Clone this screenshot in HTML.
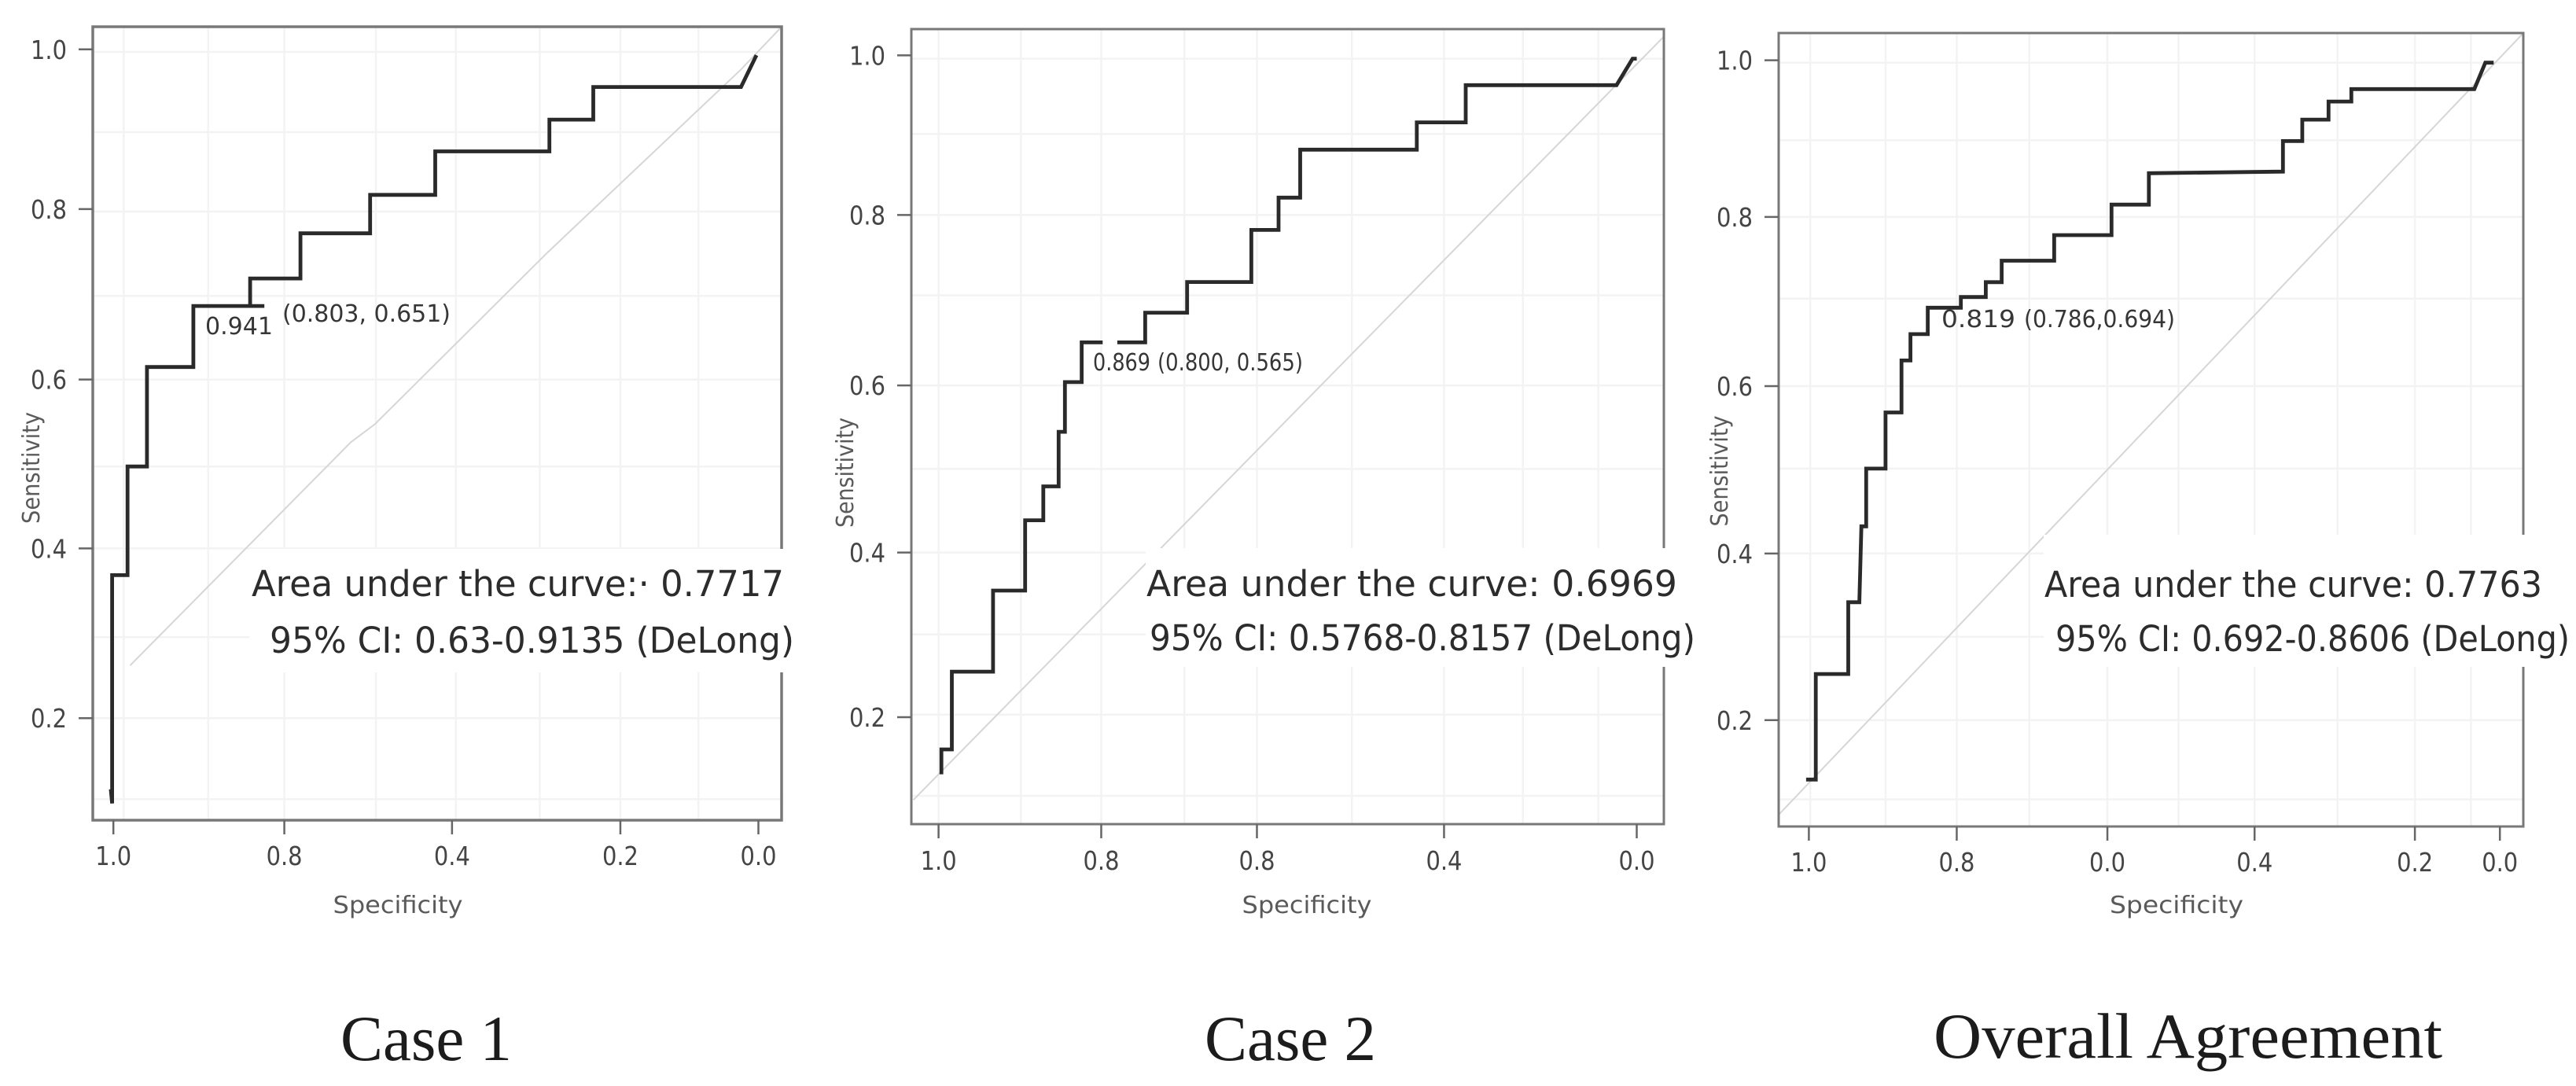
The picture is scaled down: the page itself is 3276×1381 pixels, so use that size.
<!DOCTYPE html>
<html>
<head>
<meta charset="utf-8">
<title>ROC curves</title>
<style>
html,body{margin:0;padding:0;background:#fff;}
svg{display:block;}
text{font-family:"DejaVu Sans","Liberation Sans",sans-serif;}
.tick-text{font-size:33px;fill:#454545;}
.axis-title{font-size:30px;fill:#5a5a5a;}
.cut-text{font-size:30px;fill:#363636;}
.auc-text{font-size:45px;fill:#2c2c2c;}
.caption{font-family:"Liberation Serif",serif;font-size:82px;fill:#1c1c1c;}
</style>
</head>
<body>
<svg id="figure" xmlns="http://www.w3.org/2000/svg" width="3276" height="1381" viewBox="0 0 3276 1381">
  <rect x="0" y="0" width="3276" height="1381" fill="#ffffff"/>

  <g id="panel-1">
    <g id="marks-1"></g>
    <rect x="118" y="34" width="876" height="1009" fill="none" stroke="#787878" stroke-width="3.5"/>
    <g id="ticks-1"></g>
    <rect x="317" y="698" width="696" height="157" fill="#ffffff"/>
    <text class="auc-text" x="320" y="758" textLength="677" lengthAdjust="spacingAndGlyphs">Area under the curve:&#183; 0.7717</text>
    <text class="auc-text" x="343" y="830" textLength="667" lengthAdjust="spacingAndGlyphs">95% CI: 0.63-0.9135 (DeLong)</text>
    <text class="cut-text" x="261" y="425" textLength="86" lengthAdjust="spacingAndGlyphs">0.941</text>
    <text class="cut-text" x="359" y="409" textLength="214" lengthAdjust="spacingAndGlyphs">(0.803, 0.651)</text>
    <text class="axis-title" x="506" y="1161" text-anchor="middle" textLength="165" lengthAdjust="spacingAndGlyphs">Specificity</text>
    <text class="axis-title" transform="translate(50,595) rotate(-90)" text-anchor="middle" textLength="142" lengthAdjust="spacingAndGlyphs">Sensitivity</text>
    <text class="caption" x="433" y="1348" textLength="218" lengthAdjust="spacingAndGlyphs">Case 1</text>
  </g>

  <g id="panel-2">
    <g id="marks-2"></g>
    <rect x="1159" y="37" width="957" height="1011" fill="none" stroke="#787878" stroke-width="3"/>
    <g id="ticks-2"></g>
    <rect x="1457" y="697" width="705" height="151" fill="#ffffff"/>
    <text class="auc-text" x="1458" y="758" textLength="675" lengthAdjust="spacingAndGlyphs">Area under the curve: 0.6969</text>
    <text class="auc-text" x="1462" y="827" textLength="694" lengthAdjust="spacingAndGlyphs">95% CI: 0.5768-0.8157 (DeLong)</text>
    <text class="cut-text" x="1390" y="471" textLength="73" lengthAdjust="spacingAndGlyphs">0.869</text>
    <text class="cut-text" x="1472" y="471" textLength="185" lengthAdjust="spacingAndGlyphs">(0.800, 0.565)</text>
    <text class="axis-title" x="1662" y="1161" text-anchor="middle" textLength="165" lengthAdjust="spacingAndGlyphs">Specificity</text>
    <text class="axis-title" transform="translate(1085,601) rotate(-90)" text-anchor="middle" textLength="140" lengthAdjust="spacingAndGlyphs">Sensitivity</text>
    <text class="caption" x="1532" y="1348" textLength="218" lengthAdjust="spacingAndGlyphs">Case 2</text>
  </g>

  <g id="panel-3">
    <g id="marks-3"></g>
    <rect x="2262" y="42" width="947" height="1009" fill="none" stroke="#787878" stroke-width="3"/>
    <g id="ticks-3"></g>
    <rect x="2599" y="680" width="677" height="168" fill="#ffffff"/>
    <text class="auc-text" x="2600" y="759" textLength="633" lengthAdjust="spacingAndGlyphs">Area under the curve: 0.7763</text>
    <text class="auc-text" x="2614" y="828" textLength="654" lengthAdjust="spacingAndGlyphs">95% CI: 0.692-0.8606 (DeLong)</text>
    <text class="cut-text" x="2469" y="416" textLength="94" lengthAdjust="spacingAndGlyphs">0.819</text>
    <text class="cut-text" x="2574" y="416" textLength="192" lengthAdjust="spacingAndGlyphs">(0.786,0.694)</text>
    <text class="axis-title" x="2768" y="1161" text-anchor="middle" textLength="170" lengthAdjust="spacingAndGlyphs">Specificity</text>
    <text class="axis-title" transform="translate(2197,599) rotate(-90)" text-anchor="middle" textLength="141" lengthAdjust="spacingAndGlyphs">Sensitivity</text>
    <text class="caption" x="2459" y="1345" textLength="647" lengthAdjust="spacingAndGlyphs">Overall Agreement</text>
  </g>
</svg>

<script>
// Case 1 data
var case1Specificity = [1.004,1.002,1.002,0.978,0.978,0.948,0.948,0.876,0.876,0.766,0.788,0.788,0.710,0.710,0.602,0.602,0.501,0.501,0.324,0.324,0.256,0.256,0.027,0.003];
var case1Sensitivity = [0.115,0.098,0.371,0.371,0.501,0.501,0.620,0.620,0.693,0.693,0.693,0.726,0.726,0.780,0.780,0.826,0.826,0.878,0.878,0.916,0.916,0.955,0.955,0.993];
var case1ChanceSpecificity = [0.974,0.632,0.594,0.327,0.027,-0.036];
var case1ChanceSensitivity = [0.263,0.530,0.552,0.757,0.976,1.027];
var case1XTickValues = [1,0.735,0.475,0.214,0];
var case1XTickLabels = ["1.0","0.8","0.4","0.2","0.0"];
var case1YTickValues = [1,0.809,0.605,0.403,0.2];
var case1YTickLabels = ["1.0","0.8","0.6","0.4","0.2"];
var case1GridSpecificity = [0.984,0.853,0.735,0.593,0.469,0.339,0.214,0.093];
var case1GridSensitivity = [0.997,0.901,0.806,0.705,0.605,0.501,0.403,0.297,0.2,0.103];

// Case 2 data (null marks the gap in the curve)
var case2Specificity = [0.996,0.996,0.981,0.981,0.922,0.922,0.876,0.876,0.850,0.850,0.828,0.828,0.819,0.819,0.795,0.795,0.765,null,0.744,0.704,0.704,0.644,0.644,0.552,0.552,0.513,0.513,0.482,0.482,0.315,0.315,0.245,0.245,0.029,0.006,0];
var case2Sensitivity = [0.131,0.161,0.161,0.255,0.255,0.353,0.353,0.438,0.438,0.479,0.479,0.545,0.545,0.605,0.605,0.653,0.653,null,0.653,0.653,0.689,0.689,0.726,0.726,0.789,0.789,0.828,0.828,0.886,0.886,0.919,0.919,0.964,0.964,0.996,0.996];
var case2ChanceSpecificity = [1.036,-0.038];
var case2ChanceSensitivity = [0.100,1.022];
var case2XTickValues = [1,0.767,0.544,0.276,0];
var case2XTickLabels = ["1.0","0.8","0.8","0.4","0.0"];
var case2YTickValues = [1,0.807,0.601,0.399,0.2];
var case2YTickLabels = ["1.0","0.8","0.6","0.4","0.2"];
var case2GridSpecificity = [1,0.882,0.767,0.648,0.544,0.408,0.276,0.163,0.055];
var case2GridSensitivity = [0.996,0.905,0.807,0.710,0.601,0.5,0.399,0.3,0.203,0.105];

// Overall agreement data
var overallSpecificity = [1.004,0.990,0.990,0.943,0.943,0.927,0.924,0.917,0.917,0.889,0.889,0.866,0.866,0.853,0.853,0.828,0.828,0.780,0.780,0.744,0.744,0.721,0.721,0.645,0.645,0.562,0.562,0.508,0.508,0.314,0.314,0.286,0.286,0.248,0.248,0.215,0.215,0.037,0.021,0.009];
var overallSensitivity = [0.128,0.128,0.256,0.256,0.343,0.343,0.435,0.435,0.505,0.505,0.573,0.573,0.636,0.636,0.668,0.668,0.700,0.700,0.713,0.713,0.731,0.731,0.757,0.757,0.788,0.788,0.825,0.825,0.863,0.865,0.902,0.902,0.928,0.928,0.950,0.950,0.965,0.965,0.997,0.997];
var overallChanceSpecificity = [1.043,-0.034];
var overallChanceSensitivity = [0.086,1.033];
var overallXTickValues = [1,0.786,0.568,0.355,0.123,0];
var overallXTickLabels = ["1.0","0.8","0.0","0.4","0.2","0.0"];
var overallYTickValues = [1,0.810,0.605,0.402,0.2];
var overallYTickLabels = ["1.0","0.8","0.6","0.4","0.2"];
var overallGridSpecificity = [0.998,0.889,0.786,0.681,0.568,0.465,0.355,0.235,0.123,0.042];
var overallGridSensitivity = [0.997,0.903,0.810,0.711,0.605,0.505,0.402,0.301,0.2,0.104];

var SVG_NS = 'http://www.w3.org/2000/svg';

function shape(parent, tag, attrs) {
  var el = document.createElementNS(SVG_NS, tag);
  for (var key in attrs) { el.setAttribute(key, attrs[key]); }
  parent.appendChild(el);
  return el;
}

function tracePath(xs, ys, xScale, yScale) {
  var d = '';
  var pen = 'M';
  for (var i = 0; i < xs.length; i++) {
    if (xs[i] === null) { pen = 'M'; continue; }
    d += pen + xScale(xs[i]).toFixed(1) + ' ' + yScale(ys[i]).toFixed(1);
    pen = 'L';
  }
  return d;
}

function drawPanel(opts) {
  var marks = document.getElementById('marks-' + opts.id);
  var ticks = document.getElementById('ticks-' + opts.id);
  var box = opts.box;
  var xScale = function (v) { return opts.x1 + (1 - v) * (opts.x0 - opts.x1); };
  var yScale = function (v) { return opts.y1 + (1 - v) * opts.yUnit; };

  opts.gridX.forEach(function (v) {
    var gx = shape(marks, 'line', {x1: xScale(v), x2: xScale(v), y1: box.top, y2: box.bottom, stroke: '#f3f3f3', 'stroke-width': 2.5});
    
    
  });
  opts.gridY.forEach(function (v) {
    var gy = shape(marks, 'line', {x1: box.left, x2: box.right, y1: yScale(v), y2: yScale(v), stroke: '#f3f3f3', 'stroke-width': 2.5});
    
    
  });

  var chance = shape(marks, 'path', {d: tracePath(opts.chanceX, opts.chanceY, xScale, yScale), fill: 'none', stroke: '#d6d6d6', 'stroke-width': 2});
  
  

  var curve = shape(marks, 'path', {d: tracePath(opts.specificity, opts.sensitivity, xScale, yScale), fill: 'none', stroke: '#2a2a2a', 'stroke-width': 4.8, 'stroke-linejoin': 'miter'});
  
  

  opts.xTicks.forEach(function (v, i) {
    var tx = shape(ticks, 'line', {x1: xScale(v), x2: xScale(v), y1: box.bottom, y2: box.bottom + 18, stroke: '#666666', 'stroke-width': 2.5});
    
    
    var lx = shape(ticks, 'text', {x: xScale(v), y: opts.xLabelY, 'text-anchor': 'middle', 'class': 'tick-text', textLength: 46, lengthAdjust: 'spacingAndGlyphs'});
    lx.textContent = opts.xLabels[i];
    
    
  });
  opts.yTicks.forEach(function (v, i) {
    var ty = shape(ticks, 'line', {x1: box.left - 18, x2: box.left, y1: yScale(v), y2: yScale(v), stroke: '#666666', 'stroke-width': 2.5});
    
    
    var ly = shape(ticks, 'text', {x: box.left - 33, y: yScale(v) + 12, 'text-anchor': 'end', 'class': 'tick-text', textLength: 46, lengthAdjust: 'spacingAndGlyphs'});
    ly.textContent = opts.yLabels[i];
    
    
  });
}

drawPanel({
  id: 1, x1: 144.2, x0: 964.5, y1: 62.8, yUnit: 1063, xLabelY: 1100,
  box: {left: 118, right: 994, top: 34, bottom: 1043},
  specificity: case1Specificity, sensitivity: case1Sensitivity,
  chanceX: case1ChanceSpecificity, chanceY: case1ChanceSensitivity,
  xTicks: case1XTickValues, xLabels: case1XTickLabels,
  yTicks: case1YTickValues, yLabels: case1YTickLabels,
  gridX: case1GridSpecificity, gridY: case1GridSensitivity
});
drawPanel({
  id: 2, x1: 1193.6, x0: 2081.5, y1: 70.4, yUnit: 1052, xLabelY: 1106,
  box: {left: 1159, right: 2116, top: 37, bottom: 1048},
  specificity: case2Specificity, sensitivity: case2Sensitivity,
  chanceX: case2ChanceSpecificity, chanceY: case2ChanceSensitivity,
  xTicks: case2XTickValues, xLabels: case2XTickLabels,
  yTicks: case2YTickValues, yLabels: case2YTickLabels,
  gridX: case2GridSpecificity, gridY: case2GridSensitivity
});
drawPanel({
  id: 3, x1: 2300.4, x0: 3179.2, y1: 76.6, yUnit: 1049, xLabelY: 1108,
  box: {left: 2262, right: 3209, top: 42, bottom: 1051},
  specificity: overallSpecificity, sensitivity: overallSensitivity,
  chanceX: overallChanceSpecificity, chanceY: overallChanceSensitivity,
  xTicks: overallXTickValues, xLabels: overallXTickLabels,
  yTicks: overallYTickValues, yLabels: overallYTickLabels,
  gridX: overallGridSpecificity, gridY: overallGridSensitivity
});
</script>
</body>
</html>
